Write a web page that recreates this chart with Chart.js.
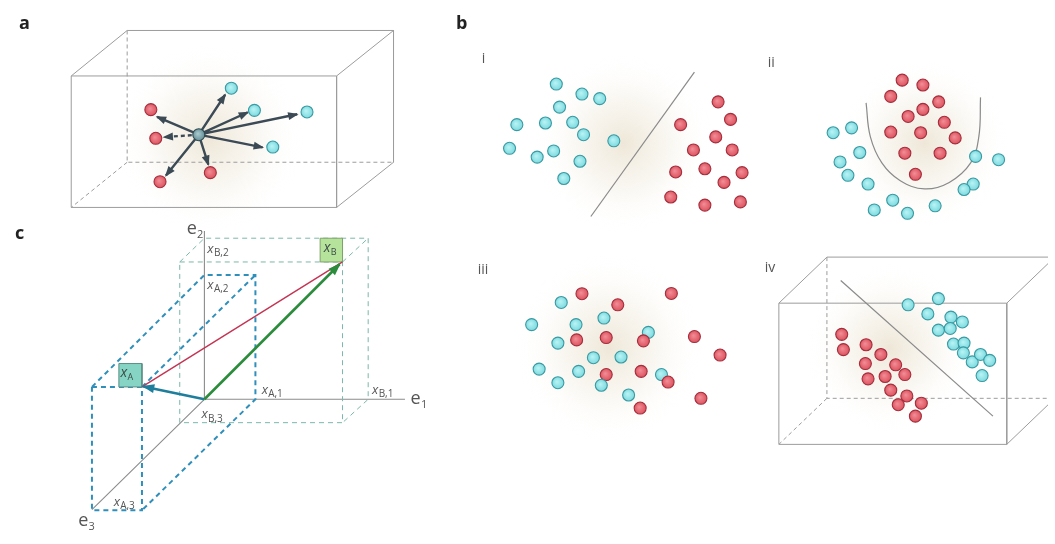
<!DOCTYPE html>
<html><head><meta charset="utf-8">
<script src="https://cdn.jsdelivr.net/npm/chart.js@4.4.1/dist/chart.umd.min.js"></script>
<style>html,body{margin:0;padding:0;background:#fff;}#wrap{position:relative;width:1055px;height:544px;}canvas{display:block;}</style>
</head><body><div id="wrap"><canvas id="c"></canvas></div>
<script>
const W = 1055, H = 544;

// ---------- panel a ----------
const aBoxSolid = [
  [[65,70.7],[334,70.7],[334,205.7],[65,205.7],[65,70.7]],
  [[65,70.7],[121.7,24],[391.7,24],[391.7,159.3],[334,205.7]],
  [[334,70.7],[391.7,24]]
];
const aBoxDashed = [
  [[121.7,24],[121.7,159.3],[391.7,159.3]],
  [[121.7,159.3],[65,205.7]]
];
const aCentre = [194.3,131];
const aCyan = [[227.3,83.3],[250.7,106],[304,107.7],[269.3,143.7]];
const aRed = [[145.7,105.3],[150.7,134.7],[155,179.3],[206,170]];
const aArrowTips = [[221,90],[244,108],[294,110],[259,144],[152,112.7],[204,161.7],[161,173]];
const aDashedArrowTips = [[159,133.5]];

// ---------- panel b(i) ----------
const biCyan = [[556.7,79],[582.7,89.3],[600.7,94],[560,102.7],[516.7,120.7],[545.7,119],[573.3,118.3],[584.3,131],[615,137.3],[509.3,145],[537.3,154],[554,147.7],[580.7,158.3],[564.3,176]];
const biRed = [[720.7,97.3],[733.3,115.3],[682.7,120.7],[718.3,133.3],[695.7,146.7],[735,146.7],[707.3,166],[677.7,169.3],[745,170],[726.7,180],[672.7,195],[707.3,203.3],[743.3,200]];
const biLine = [[696.7,66.7],[591.7,215]];

// ---------- panel b(ii) ----------
const biiRed = [[907.3,75],[928.3,80],[895.7,91.7],[944.3,97.3],[928.3,105],[913.3,112.3],[950,118.3],[895.7,128.3],[926,129],[961,134.3],[910,150],[945.7,150],[920.7,171.7]];
const biiCyan = [[837.3,129],[856,124],[864.3,149.3],[844.3,159],[852.3,172.7],[872.7,181.7],[981.7,153.3],[1005,156.7],[979.3,181.7],[970,187.3],[897.7,198.3],[879,208.3],[912.7,211.7],[940.7,204]];
const biiCurve = [[870.7,98.3],[875,133],[886.7,160],[905,178],[930,186.7],[955,180],[976.7,160],[985,133],[986.7,92.7]];

// ---------- panel b(iii) ----------
const biiiCyan = [[561.7,303.3],[531.7,326],[576.7,326],[605,319.3],[650,334],[558.3,345],[594.3,360],[622.3,359.3],[539.3,371.7],[579.3,374],[558.3,385.7],[663.3,377.3],[630,398.3]];
const biiiRed = [[582.7,294.3],[619,305.7],[673.3,294],[577.3,341.7],[607.3,339.3],[645,342.7],[696.7,338.3],[722.7,357.3],[607.3,377.3],[642.7,374],[670,385],[703.3,401.7],[641.7,411.7]];
const biiiCyanTop = [[602.3,388.3]];

// ---------- panel b(iv) ----------
const bivBoxSolid = [
  [[782.3,304],[1013.3,304],[1013.3,449],[782.3,449],[782.3,304]],
  [[782.3,304],[831,256.7],[1062,256.7]],
  [[1013.3,304],[1062,256.7]],
  [[1013.3,449],[1062,401.7]]
];
const bivBoxDashed = [
  [[831,256.7],[831,401.7],[1062,401.7]],
  [[831,401.7],[782.3,449]]
];
const bivLine = [[845,280.7],[999.3,420]];
const bivCyan = [[913.3,305.7],[944,299.3],[933.3,315],[956.7,318.3],[968.3,323.3],[944,331.7],[956,330],[959.3,346],[970,345],[969.3,355],[978.3,364.3],[986.7,356.7],[996,362.7],[988.3,378.3]];
const bivRed = [[846,336],[847.7,351.7],[870.7,346.7],[885.7,356.7],[870,366],[900.7,367.3],[872.7,381.7],[890,379.3],[910,377.3],[895.7,393.3],[912,399.3],[903.3,408.3],[926.7,406.7],[920.7,420]];

// ---------- panel c ----------
const cOrigin = [200,402.7];
const cPointA = [136.7,390];
const cPointB = [340,261.7];
const cTipA = [138,389.5];
const cTipB = [337,264];
const cAxes = [
  [[200,230],[200,402.7],[403.3,402.7]],
  [[200,402.7],[86,516]]
];
const cBoxB = [
  [[175,261.7],[340,261.7],[340,426.7],[175,426.7],[175,261.7]],
  [[175,261.7],[200,237.3],[366,237.3],[366,402.7],[340,426.7]],
  [[340,261.7],[366,237.3]]
];
const cBoxA = [
  [[86,390],[136.7,390],[136.7,516.7],[86,516.7],[86,390]],
  [[86,390],[200,275],[251.7,275],[251.7,402.7],[136.7,516.7]],
  [[136.7,390],[251.7,275]]
];
const cTagA = [[113.3,366],[136.7,366],[136.7,390],[113.3,390],[113.3,366]];
const cTagB = [[317.3,237.3],[340,237.3],[340,261.7],[317.3,261.7],[317.3,237.3]];

// ---------- text ----------
const panelLetters = [['a',12,22],['b',455,22],['c',8,238]];
const romanLabels = [['i',481,57],['ii',771,62],['iii',477,274],['iv',768,272]];
const axisLabels = [['e','2',182,233],['e','1',409,408],['e','3',72,533]];
const coordLabels = [['x','B,2',203,252],['x','A,2',203,289],['x','A,1',258,397],['x','B,1',370,397],['x','B,3',197,422],['x','A,3',108,512]];
const tagLabels = [['x','A',115,380],['x','B',321,251]];
const glows = [[205,135,95],[625,140,90],[930,140,85],[610,350,95],[895,350,85]];

// ---------- helpers ----------
const P = a => a.map(([x,y]) => ({x,y}));
const S = list => { const out=[]; list.forEach((seg,i)=>{ if(i) out.push({x:null,y:null}); seg.forEach(([x,y])=>out.push({x,y})); }); return out; };
const arrows = (from, tips) => tips.map(t => [from, t]);

function ballFill(base, light){
  return (ctx) => {
    if (ctx.type !== 'data' || !ctx.raw) return base;
    const c = ctx.chart, xs = c.scales.x, ys = c.scales.y;
    if (!xs || !ys) return base;
    const px = xs.getPixelForValue(ctx.raw.x), py = ys.getPixelForValue(ctx.raw.y);
    if (!isFinite(px) || !isFinite(py)) return base;
    const g = c.ctx.createRadialGradient(px-1, py-1, 0.5, px, py, 6.5);
    g.addColorStop(0, light); g.addColorStop(1, base);
    return g;
  };
}
function lineDS(label, segs, color, width, dash, order, extra){
  return Object.assign({type:'line', label, data:S(segs), borderColor:color, borderWidth:width, borderDash:dash||[],
    pointRadius:0, pointHoverRadius:0, fill:false, tension:0, spanGaps:false, order}, extra||{});
}
function dotDS(label, pts, fill, light, stroke, order){
  return {type:'scatter', label, data:P(pts), pointRadius:6, pointHoverRadius:6, borderWidth:1.1,
    borderColor:stroke, backgroundColor:ballFill(fill, light), order};
}
const CY = ['#78d8dd','#b6f2f4','#3a9aa2'];
const RD = ['#dc4f5c','#f08a93','#a32e3c'];
const GREY = '#9c9c9c';

const datasets = [
  // panel a
  lineDS('a box', aBoxSolid, GREY, 1, [], 9),
  lineDS('a box hidden', aBoxDashed, GREY, 1, [4,3], 9),
  lineDS('a arrows', arrows(aCentre, aArrowTips), '#3b4a55', 2.4, [], 4, {arrowHead:[9,4]}),
  lineDS('a dashed arrow', arrows(aCentre, aDashedArrowTips), '#3b4a55', 2.4, [4,3], 4, {arrowHead:[9,4]}),
  dotDS('a class 1', aCyan, ...CY, 2),
  dotDS('a class 2', aRed, ...RD, 2),
  dotDS('a query', [aCentre], '#5f8d94', '#a8c8cc', '#2f4a50', 1),
  // panel b
  lineDS('b i boundary', [biLine], '#8a8a8a', 1.2, [], 8),
  dotDS('b i class 1', biCyan, ...CY, 2),
  dotDS('b i class 2', biRed, ...RD, 2),
  lineDS('b ii boundary', [biiCurve], '#8a8a8a', 1.2, [], 8, {tension:0.4}),
  dotDS('b ii class 1', biiCyan, ...CY, 2),
  dotDS('b ii class 2', biiRed, ...RD, 2),
  dotDS('b iii class 1', biiiCyan, ...CY, 3),
  dotDS('b iii class 2', biiiRed, ...RD, 2),
  dotDS('b iii class 1 top', biiiCyanTop, ...CY, 1),
  lineDS('b iv box', bivBoxSolid, GREY, 1, [], 9),
  lineDS('b iv box hidden', bivBoxDashed, GREY, 1, [4,3], 9),
  lineDS('b iv plane', [bivLine], '#8a8a8a', 1.2, [], 8),
  dotDS('b iv class 1', bivCyan, ...CY, 2),
  dotDS('b iv class 2', bivRed, ...RD, 2),
  // panel c
  lineDS('c axes', cAxes, '#8c8c8c', 1.1, [], 9),
  lineDS('c box B', cBoxB, '#7ab8aa', 1, [5,4], 8),
  lineDS('c box A', cBoxA, '#2f8fbb', 2, [5,4], 7),
  lineDS('c tag A', [cTagA], '#5b8f86', 1, [], 5, {fill:'shape', backgroundColor:'#86d5c4'}),
  lineDS('c tag B', [cTagB], '#7ea36a', 1, [], 5, {fill:'shape', backgroundColor:'#b6e39c'}),
  lineDS('c A to B', [[cPointA, cPointB]], '#c43452', 1.4, [], 4),
  lineDS('c vector B', [[cOrigin, cTipB]], '#2b8c3c', 2.6, [], 3, {arrowHead:[11,4.5]}),
  lineDS('c vector A', [[cOrigin, cTipA]], '#1e7e9c', 2.6, [], 3, {arrowHead:[11,4.5]})
];

const glowPlugin = {
  id:'glow',
  beforeDatasetsDraw(chart){
    const ctx = chart.ctx, xs = chart.scales.x, ys = chart.scales.y;
    ctx.save();
    glows.forEach(([x,y,r]) => {
      const px = xs.getPixelForValue(x), py = ys.getPixelForValue(y);
      const pr = Math.abs(xs.getPixelForValue(x + r) - px);
      const g = ctx.createRadialGradient(px, py, 0, px, py, pr);
      g.addColorStop(0, 'rgba(222,208,178,0.5)');
      g.addColorStop(0.5, 'rgba(232,222,200,0.25)');
      g.addColorStop(1, 'rgba(255,255,255,0)');
      ctx.fillStyle = g;
      ctx.fillRect(px-pr, py-pr, pr*2, pr*2);
    });
    ctx.restore();
  }
};
const arrowPlugin = {
  id:'arrows',
  afterDatasetDraw(chart, args){
    const ds = chart.data.datasets[args.index];
    if (!ds.arrowHead) return;
    const pts = args.meta.data, ctx = chart.ctx;
    const [L, Wd] = ds.arrowHead;
    ctx.save(); ctx.fillStyle = ds.borderColor;
    for (let i = 1; i < pts.length; i++){
      const p = pts[i], q = pts[i-1], n = pts[i+1];
      if (p.skip || q.skip) continue;
      if (n && !n.skip) continue;
      const ang = Math.atan2(p.y-q.y, p.x-q.x), c = Math.cos(ang), s = Math.sin(ang);
      ctx.beginPath();
      ctx.moveTo(p.x + 1.5*c, p.y + 1.5*s);
      ctx.lineTo(p.x - L*c + Wd*s, p.y - L*s - Wd*c);
      ctx.lineTo(p.x - L*c - Wd*s, p.y - L*s + Wd*c);
      ctx.closePath(); ctx.fill();
    }
    ctx.restore();
  }
};
const textPlugin = {
  id:'texts',
  afterDatasetsDraw(chart){
    const ctx = chart.ctx, xs = chart.scales.x, ys = chart.scales.y;
    const X = v => xs.getPixelForValue(v), Y = v => ys.getPixelForValue(v);
    ctx.save();
    ctx.textAlign = 'left'; ctx.textBaseline = 'alphabetic';
    ctx.fillStyle = '#222';
    ctx.font = 'bold 18px "Open Sans", "DejaVu Sans", sans-serif';
    panelLetters.forEach(([t,x,y]) => ctx.fillText(t, X(x), Y(y)));
    ctx.fillStyle = '#555';
    ctx.font = '14px "Open Sans", sans-serif';
    romanLabels.forEach(([t,x,y]) => ctx.fillText(t, X(x), Y(y)));
    const sub = (m, s, x, y, mf, sf, dy) => {
      ctx.font = mf; ctx.fillText(m, X(x), Y(y));
      const w = ctx.measureText(m).width;
      ctx.font = sf; ctx.fillText(s, X(x) + w + 0.3, Y(y) + dy);
    };
    axisLabels.forEach(([m,s,x,y]) => sub(m, s, x, y, '18px "Open Sans", sans-serif', '11px "Open Sans", sans-serif', 4));
    coordLabels.forEach(([m,s,x,y]) => sub(m, s, x, y, 'italic 13px "Open Sans", sans-serif', '10px "Open Sans", sans-serif', 3.5));
    ctx.fillStyle = '#3d4d48';
    tagLabels.forEach(([m,s,x,y]) => sub(m, s, x, y, 'italic 14px "Open Sans", sans-serif', '9px "Open Sans", sans-serif', 3));
    ctx.restore();
  }
};

new Chart(document.getElementById('c'), {
  type:'scatter',
  data:{datasets},
  options:{
    responsive:true, maintainAspectRatio:false, animation:false, events:[],
    layout:{padding:0},
    scales:{
      x:{type:'linear', min:0, max:W, display:false},
      y:{type:'linear', min:0, max:H, reverse:true, display:false}
    },
    plugins:{legend:{display:false}, tooltip:{enabled:false}}
  },
  plugins:[glowPlugin, arrowPlugin, textPlugin]
});
</script></body></html>
